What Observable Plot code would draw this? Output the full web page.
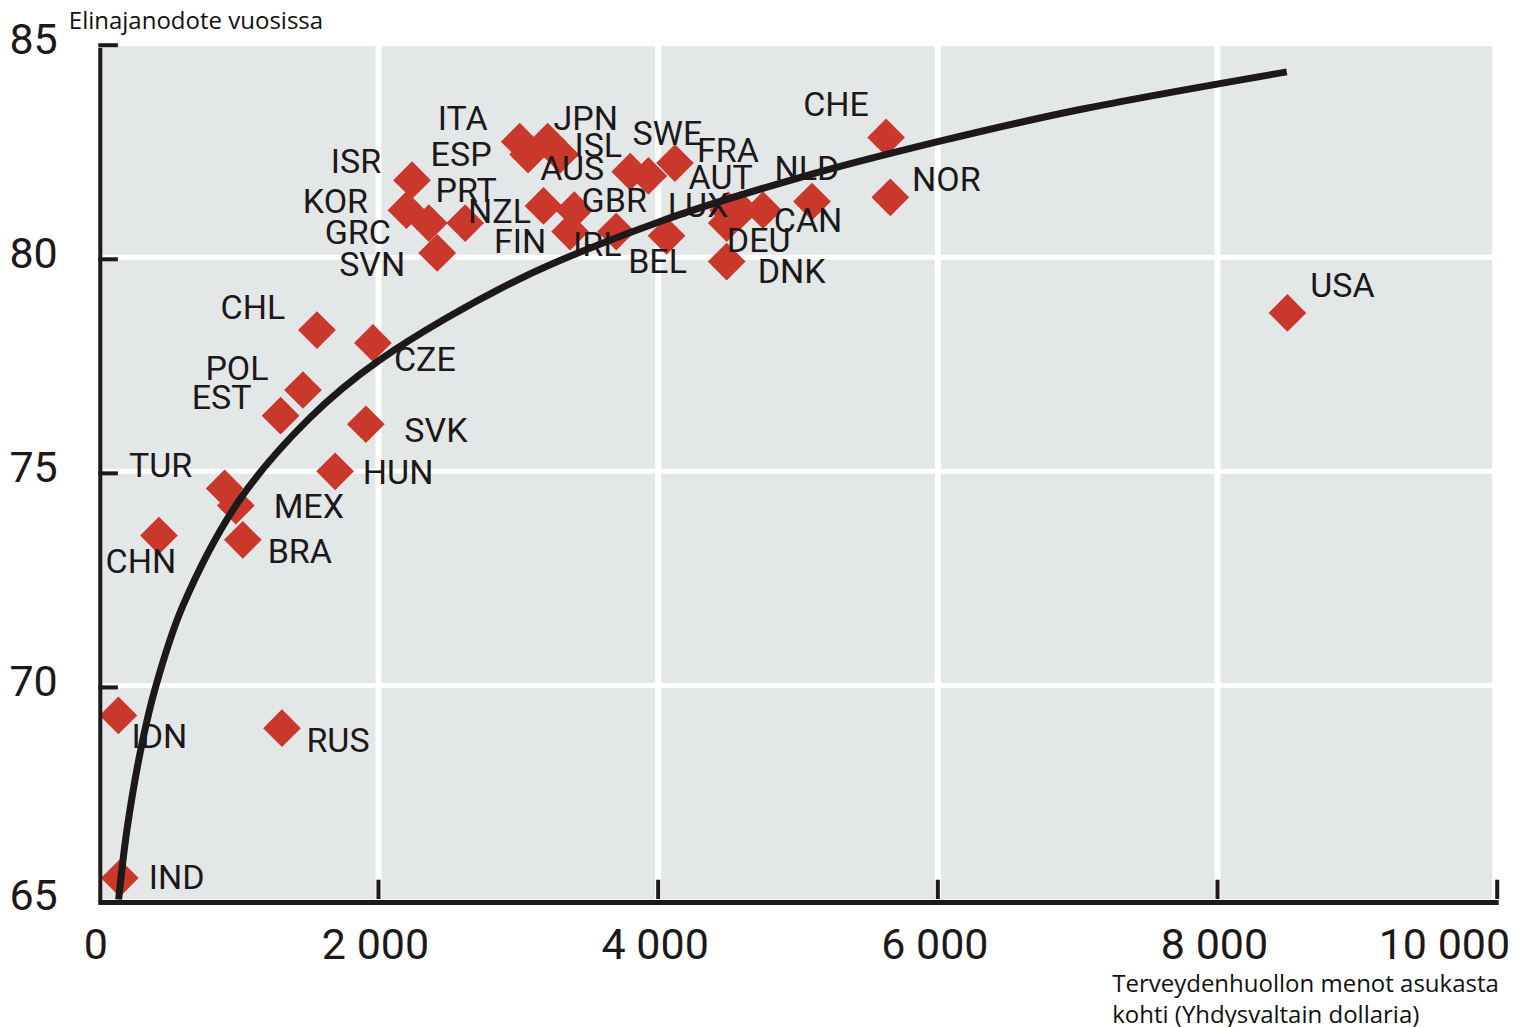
<!DOCTYPE html>
<html>
<head>
<meta charset="utf-8">
<script src="https://cdn.jsdelivr.net/npm/d3@7"></script>
<script src="https://cdn.jsdelivr.net/npm/@observablehq/plot@0.6"></script>
<style>
  html, body { margin: 0; padding: 0; background: #fff; }
  #chart svg { display: block; }
</style>
</head>
<body>
<div id="chart"></div>
<script>
// ---- data ----
const countries = ["ISR","KOR","GRC","PRT","SVN","ITA","JPN","ESP","ISL","AUS","SWE","FRA","NZL","GBR","FIN","IRL","BEL","LUX","AUT","DEU","CAN","NLD","DNK","CHE","NOR","USA","CHL","CZE","POL","EST","SVK","HUN","TUR","MEX","BRA","CHN","IDN","RUS","IND"];
const spending   = [2240,2200,2360,2620,2420,3010,3210,3070,3300,3800,3930,4120,3180,3400,3370,3700,4060,4500,4590,4490,4750,5100,4490,5630,5660,8500,1560,1960,1460,1300,1910,1690,900,980,1030,430,140,1310,150];
const lifeExp    = [81.8,81.1,80.8,80.8,80.1,82.7,82.7,82.4,82.4,82.0,81.9,82.2,81.2,81.1,80.6,80.6,80.5,81.1,81.1,80.8,81.1,81.3,79.9,82.8,81.4,78.7,78.3,78.0,76.9,76.3,76.1,75.0,74.6,74.2,73.4,73.5,69.3,69.0,65.5];

// trend curve, points
const curveSpending = [142,200,300,405,600,1000,1500,2000,3000,4000,5000,6000,7000,8495];
const curveLifeExp  = [65.0,66.6,68.5,69.95,71.85,74.3,76.22,77.58,79.48,80.82,81.85,82.7,83.44,84.33];

const xTicks = [0,2000,4000,6000,8000,10000];
const xTickLabels = ["0","2 000","4 000","6 000","8 000","10 000"];
const yTicks = [65,70,75,80,85];
const yGrid = [70,75,80];
const xGrid = [2000,4000,6000,8000];

const yTitle = "Elinajanodote vuosissa";
const xTitle = "Terveydenhuollon menot asukasta\nkohti (Yhdysvaltain dollaria)";

// label placement (pixel offsets from each diamond)
const labelOffset = {
  ISR:[-56,-18], KOR:[-71,-8], GRC:[-71,10], PRT:[1,-32], SVN:[-65,12],
  ITA:[-57,-23], JPN:[38,-23], ESP:[-67,1], ISL:[38,-8], AUS:[-58,-3],
  SWE:[19,-42], FRA:[53,-12], NZL:[-44,6], GBR:[40,-9], FIN:[-50,11],
  IRL:[-19,14], BEL:[-9,26], LUX:[-30,-4], AUT:[-20,-32], DEU:[32,18],
  CAN:[45,11], NLD:[-5,-33], DNK:[65,11], CHE:[-50,-32], NOR:[56,-17],
  USA:[55,-27], CHL:[-64,-22], CZE:[52,17], POL:[-66,-21], EST:[-59,-18],
  SVK:[70,7], HUN:[63,2], TUR:[-64,-22], MEX:[73,2], BRA:[57,12],
  CHN:[-18,27], IDN:[41,22], RUS:[56,13], IND:[57,0]
};

// ---- build tables ----
const points = countries.map((c,i) => ({country:c, x:spending[i], y:lifeExp[i]}));
const curve = curveSpending.map((x,i) => ({x, y:curveLifeExp[i]}));

const RED = "#c9382a";
const INK = "#1d1819";
const PANEL = "#e4e7e8";
const NARROW = "Roboto, 'Liberation Sans', sans-serif";
const HUMAN = "'Open Sans', 'Noto Sans', sans-serif";

const labelMarks = countries.map(c => {
  const p = points.find(d => d.country === c);
  const [dx, dy] = labelOffset[c];
  return Plot.text([p], {x:"x", y:"y", text:"country", dx, dy, fontSize:34, fill:INK,
    fontFamily:NARROW, textAnchor:"middle"});
});

const chart = Plot.plot({
  width: 1515,
  height: 1027,
  marginLeft: 98.3,
  marginRight: 18.3,
  marginTop: 42.7,
  marginBottom: 128,
  x: {domain:[0,10000], axis:null},
  y: {domain:[65,85], axis:null},
  style: {background:"#fff", overflow:"visible"},
  marks: [
    Plot.frame({fill:PANEL, stroke:null, insetTop:3, insetRight:5, insetLeft:2}),
    Plot.ruleX(xGrid, {stroke:"#fff", strokeWidth:6}),
    Plot.ruleY(yGrid, {stroke:"#fff", strokeWidth:5}),
    Plot.dot(points, {x:"x", y:"y", symbol:"diamond2", r:17, fill:RED, stroke:null}),
    Plot.line(curve, {x:"x", y:"y", stroke:INK, strokeWidth:7, curve:"catmull-rom", strokeLinecap:"butt"}),
    ...labelMarks,
    // axes
    Plot.ruleX([0], {y1:65, y2:85, stroke:INK, strokeWidth:4, dx:1.5, insetTop:2, insetBottom:-5}),
    Plot.ruleY([85,80,75,70], {x1:0, x2:140, stroke:INK, strokeWidth:4, dy:2}),
    Plot.ruleY([65], {x1:0, x2:10000, stroke:INK, strokeWidth:5, dy:3, insetRight:-2}),
    Plot.ruleX(xTicks.slice(1), {y1:65, y2:65.45, stroke:INK, strokeWidth:4}),
    // tick labels
    Plot.text(yTicks, {x:0, y:d=>d, text:d=>String(d), textAnchor:"end", dx:-41, dy:-3,
      fontSize:43, fill:INK, fontFamily:NARROW}),
    Plot.text(xTicks.slice(0,5), {x:d=>d, y:65, text:(d,i)=>xTickLabels[i], textAnchor:"middle", dx:-3, dy:46,
      fontSize:43, fill:INK, fontFamily:NARROW}),
    Plot.text(xTicks.slice(5), {x:d=>d, y:65, text:()=>xTickLabels[5], textAnchor:"end", dx:13, dy:46,
      fontSize:43, fill:INK, fontFamily:NARROW}),
    // titles
    Plot.text([yTitle], {x:0, y:85, text:d=>d, textAnchor:"start", dx:-30, dy:-22,
      fontSize:24, fill:"#111", fontFamily:HUMAN}),
    Plot.text([xTitle], {x:10000, y:65, text:d=>d, textAnchor:"start", dx:-385, dy:71,
      lineAnchor:"top", lineHeight:1.27, fontSize:24, fill:"#111", fontFamily:HUMAN})
  ]
});

document.getElementById("chart").appendChild(chart);
</script>
</body>
</html>
